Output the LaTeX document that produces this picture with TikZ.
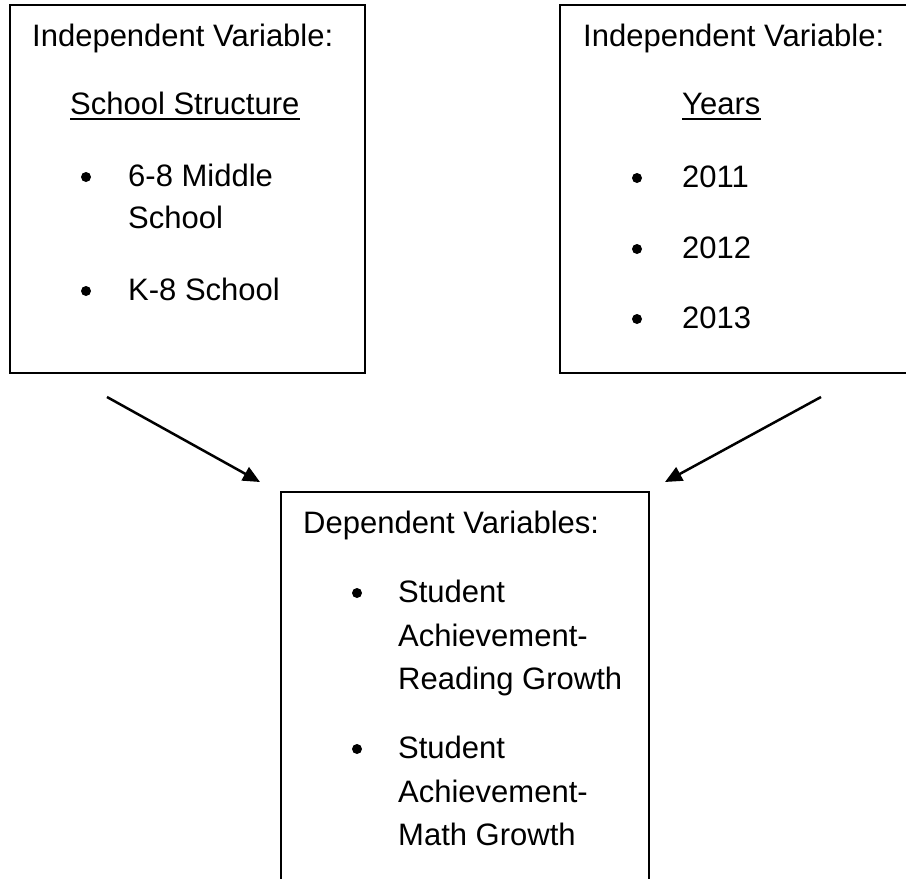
\documentclass[tikz,border=0pt]{standalone}
\usepackage{fontspec}
\setmainfont{Liberation Sans}
\usetikzlibrary{arrows.meta}
\begin{document}
\begin{tikzpicture}[x=1pt,y=-1pt,
  boxline/.style={draw=black,line width=2pt},
  txt/.style={anchor=base west,inner sep=0pt,font=\fontsize{31}{37}\selectfont},
  bul/.style={circle,fill=black,inner sep=0pt,minimum size=10pt},
  arr/.style={line width=2.5pt,-{Triangle[length=17pt,width=15pt]}},
  uline/.style={line width=2pt}]
\useasboundingbox (0,0) rectangle (906,879);
\clip (0,0) rectangle (906,879);
\fill[white] (0,0) rectangle (906,879);
% boxes
\draw[boxline] (10,5) rectangle (365,373);
\draw[boxline] (560,5) rectangle (916,373);
\draw[boxline] (281,492) rectangle (649,900);
% left box
\node[txt] (l1) at (32,46) {Independent Variable:};
\node[txt] (l2) at (70,114) {School Structure};
\draw[uline] ([yshift=-4.5pt]l2.base west) -- ([yshift=-4.5pt]l2.base east);
\node[bul] (lb1) at (86,177) {};
\node[txt] (l3) at (128,186) {6-8 Middle};
\node[txt] (l4) at (128,228) {School};
\node[bul] (lb2) at (86,291) {};
\node[txt] (l5) at (128,300) {K-8 School};
% right box
\node[txt] (r1) at (583,46) {Independent Variable:};
\node[txt] (r2) at (682,114) {Years};
\draw[uline] ([yshift=-4.5pt]r2.base west) -- ([yshift=-4.5pt]r2.base east);
\node[bul] (rb1) at (637,178) {};
\node[txt] (r3) at (682,187) {2011};
\node[bul] (rb2) at (637,249) {};
\node[txt] (r4) at (682,258) {2012};
\node[bul] (rb3) at (637,319) {};
\node[txt] (r5) at (682,328) {2013};
% bottom box
\node[txt] (b1) at (303,533) {Dependent Variables:};
\node[bul] (bb1) at (357,593) {};
\node[txt] (b2) at (398,602) {Student};
\node[txt] (b3) at (398,646) {Achievement-};
\node[txt] (b4) at (398,689) {Reading Growth};
\node[bul] (bb2) at (357,749) {};
\node[txt] (b5) at (398,758) {Student};
\node[txt] (b6) at (398,802) {Achievement-};
\node[txt] (b7) at (398,845) {Math Growth};
% arrows
\coordinate (a1s) at (107,397);
\coordinate (a1e) at (260,482);
\coordinate (a2s) at (821,397);
\coordinate (a2e) at (665,482);
\draw[arr] (a1s) -- (a1e);
\draw[arr] (a2s) -- (a2e);
\end{tikzpicture}
\end{document}
